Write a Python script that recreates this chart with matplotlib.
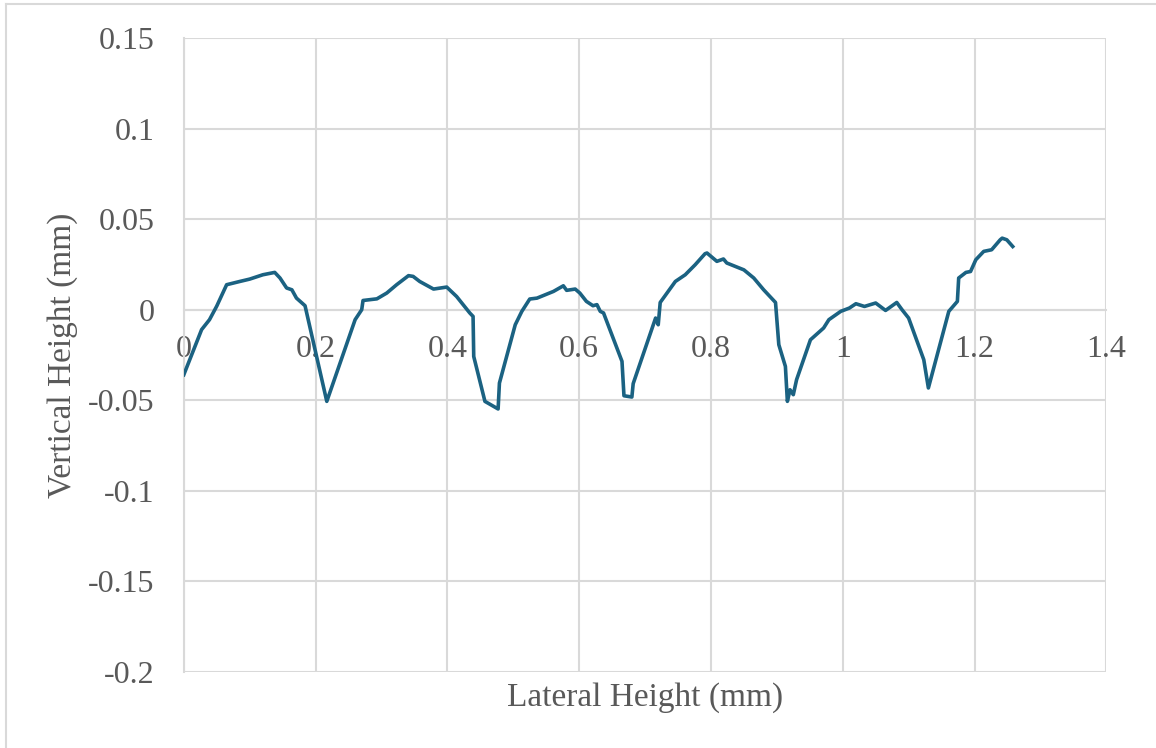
import matplotlib.pyplot as plt
from matplotlib.lines import Line2D

# Profil-Daten
lateral = [0.000, 0.027, 0.039, 0.050, 0.065, 0.085, 0.100, 0.120, 0.138, 0.146,
           0.156, 0.164, 0.171, 0.184, 0.217, 0.260, 0.270, 0.272, 0.293, 0.308,
           0.323, 0.341, 0.348, 0.358, 0.379, 0.399, 0.414, 0.434, 0.439, 0.440,
           0.457, 0.477, 0.479, 0.503, 0.513, 0.525, 0.536, 0.561, 0.576, 0.581,
           0.594, 0.601, 0.611, 0.621, 0.627, 0.632, 0.637, 0.665, 0.668, 0.680,
           0.682, 0.716, 0.720, 0.723, 0.746, 0.761, 0.776, 0.791, 0.794, 0.809,
           0.819, 0.824, 0.850, 0.865, 0.880, 0.898, 0.903, 0.913, 0.916, 0.920,
           0.925, 0.930, 0.951, 0.971, 0.979, 0.997, 1.010, 1.020, 1.033, 1.050,
           1.065, 1.082, 1.090, 1.100, 1.123, 1.130, 1.161, 1.174, 1.176, 1.187,
           1.194, 1.202, 1.214, 1.226, 1.239, 1.242, 1.249, 1.258]
vertical = [-0.0359, -0.0110, -0.0055, 0.0020, 0.0138, 0.0156, 0.0169, 0.0193, 0.0206, 0.0175,
            0.0120, 0.0110, 0.0064, 0.0022, -0.0506, -0.0055, 0.0000, 0.0051, 0.0060, 0.0092,
            0.0138, 0.0188, 0.0184, 0.0156, 0.0114, 0.0125, 0.0073, -0.0018, -0.0037, -0.0258,
            -0.0506, -0.0548, -0.0405, -0.0083, -0.0009, 0.0059, 0.0064, 0.0101, 0.0132, 0.0107,
            0.0114, 0.0092, 0.0046, 0.0022, 0.0028, -0.0009, -0.0018, -0.0285, -0.0475, -0.0482,
            -0.0408, -0.0046, -0.0083, 0.0040, 0.0156, 0.0193, 0.0248, 0.0309, 0.0313, 0.0267,
            0.0280, 0.0258, 0.0220, 0.0175, 0.0110, 0.0040, -0.0193, -0.0313, -0.0506, -0.0442,
            -0.0469, -0.0386, -0.0166, -0.0101, -0.0055, -0.0009, 0.0009, 0.0033, 0.0018, 0.0037,
            -0.0004, 0.0040, 0.0000, -0.0046, -0.0276, -0.0432, -0.0009, 0.0046, 0.0175, 0.0206,
            0.0211, 0.0276, 0.0322, 0.0331, 0.0386, 0.0395, 0.0386, 0.0349]

x_ticks = [0, 0.2, 0.4, 0.6, 0.8, 1.0, 1.2, 1.4]
x_labels = ["0", "0.2", "0.4", "0.6", "0.8", "1", "1.2", "1.4"]
y_ticks = [-0.2, -0.15, -0.1, -0.05, 0, 0.05, 0.1, 0.15]
y_labels = ["-0.2", "-0.15", "-0.1", "-0.05", "0", "0.05", "0.1", "0.15"]

grau = "#d9d9d9"
text_farbe = "#595959"
plt.rcParams["font.family"] = ["Liberation Serif", "DejaVu Serif"]

fig = plt.figure(figsize=(11.56, 7.48), dpi=100)
ax = fig.add_axes([0.159, 0.1016, 0.798, 0.8476])

ax.plot(lateral, vertical, color="#1b6282", linewidth=2.6, zorder=3)

ax.set_xlim(0, 1.4)
ax.set_ylim(-0.2, 0.15)
ax.set_xticks(x_ticks)
ax.set_xticklabels(x_labels)
ax.set_yticks(y_ticks)
ax.set_yticklabels(y_labels)

ax.grid(True, color=grau, linewidth=1.5)
ax.set_axisbelow(True)
for s in ["top", "right"]:
    ax.spines[s].set_visible(False)
ax.spines["bottom"].set_position(("data", 0))
ax.spines["bottom"].set_color(grau)
ax.spines["bottom"].set_linewidth(1.5)
ax.spines["left"].set_color(grau)
ax.spines["left"].set_linewidth(1.5)

ax.tick_params(axis="x", length=0, pad=18, labelsize=23, labelcolor=text_farbe)
ax.tick_params(axis="y", length=0, pad=21, labelsize=23, labelcolor=text_farbe)

# Achsenbeschriftungen
fig.text(0.558, 0.068, "Lateral Height (mm)", ha="center", va="center",
         fontsize=24, color=text_farbe)
fig.text(0.054, 0.525, "Vertical Height (mm)", ha="center", va="center",
         rotation=90, fontsize=24, color=text_farbe)

# Rahmen links und oben
fig.add_artist(Line2D([0.005, 0.005], [0, 0.994], transform=fig.transFigure,
                      color=grau, linewidth=1.5))
fig.add_artist(Line2D([0.005, 1], [0.994, 0.994], transform=fig.transFigure,
                      color=grau, linewidth=1.5))

fig.savefig("out.png", dpi=100)
